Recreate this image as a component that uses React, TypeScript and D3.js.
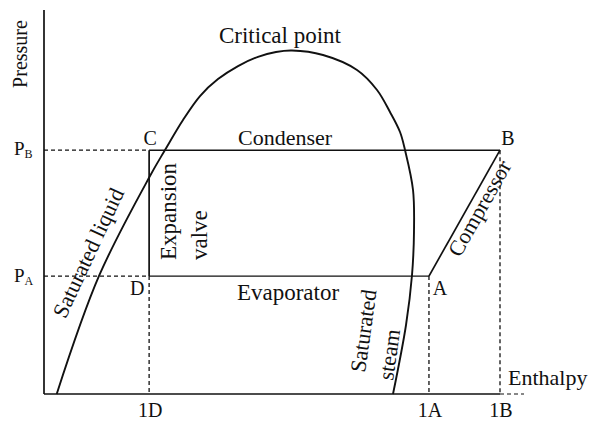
import React from "react";
import * as d3 from "d3";

// Saturation dome (enthalpy, pressure) in arbitrary units
const domeH = [2.65, 11.46, 22.08, 25.21, 28.96, 32.5, 36.25, 40.42, 44.58, 48.33, 51.67, 58.13, 65.21, 69.38, 72.08, 74.17, 75.21, 76.88, 77.08, 76.67, 75.42, 72.71];
const domeP = [0, 30.73, 56.77, 63.54, 71.35, 77.6, 82.0, 85.4, 87.8, 89.06, 89.45, 88.28, 84.38, 79.17, 73.44, 68.23, 63.54, 53.13, 42.19, 30.99, 17.97, 0];

// Cycle state points
const cycleLabels = ["A", "B", "C", "D"];
const cycleH = [80.2, 95, 21.9, 21.9];
const cycleP = [30.7, 63.5, 63.5, 30.7];

// Axis ticks
const pressureTickLabels = ["A", "B"]; // subscripts of P
const pressureTickValues = [30.7, 63.5];
const enthalpyTickLabels = ["1D", "1A", "1B"];
const enthalpyTickValues = [21.9, 80.2, 95];

const W = 590;
const H = 426;
const FONT = "'Liberation Serif', 'Times New Roman', serif";

export default function App() {
  const x = d3.scaleLinear().domain([0, 100]).range([44, 524]);
  const y = d3.scaleLinear().domain([0, 100]).range([394, 10]);

  const pt = (l: string) => {
    const i = cycleLabels.indexOf(l);
    return { x: x(cycleH[i]), y: y(cycleP[i]) };
  };
  const A = pt("A"), B = pt("B"), C = pt("C"), D = pt("D");
  const x0 = x(0), y0 = y(0);

  const domePts = domeH.map((h, i) => [x(h), y(domeP[i])] as [number, number]);
  const dome = d3.line().curve(d3.curveCatmullRom.alpha(0.5))(domePts) || "";

  const dash = "4,3";
  const stroke = "#111";

  const tickX = (lbl: string) => x(enthalpyTickValues[enthalpyTickLabels.indexOf(lbl)]);
  const tickY = (lbl: string) => y(pressureTickValues[pressureTickLabels.indexOf(lbl)]);

  return (
    <svg width={W} height={H} style={{ position: "absolute", left: 0, top: 0, background: "#fff" }} fontFamily={FONT} fill="#111">
      {/* axes */}
      <line x1={x0} y1={y(100)} x2={x0} y2={y0} stroke={stroke} strokeWidth={1.7} />
      <line x1={x0} y1={y0} x2={tickX("1B")} y2={y0} stroke={stroke} strokeWidth={1.5} />
      <line x1={tickX("1B")} y1={y0} x2={x(100)} y2={y0} stroke={stroke} strokeWidth={1.2} strokeDasharray={dash} />

      {/* dashed guides */}
      <line x1={x0} y1={tickY("B")} x2={C.x} y2={C.y} stroke={stroke} strokeWidth={1.3} strokeDasharray={dash} />
      <line x1={x0} y1={tickY("A")} x2={D.x} y2={D.y} stroke={stroke} strokeWidth={1.3} strokeDasharray={dash} />
      <line x1={D.x} y1={D.y} x2={tickX("1D")} y2={y0} stroke={stroke} strokeWidth={1.3} strokeDasharray={dash} />
      <line x1={A.x} y1={A.y} x2={tickX("1A")} y2={y0} stroke={stroke} strokeWidth={1.3} strokeDasharray={dash} />
      <line x1={B.x} y1={B.y} x2={tickX("1B")} y2={y0} stroke={stroke} strokeWidth={1.3} strokeDasharray={dash} />

      {/* cycle */}
      <line x1={C.x} y1={C.y} x2={B.x} y2={B.y} stroke={stroke} strokeWidth={1.5} />
      <line x1={C.x} y1={C.y} x2={D.x} y2={D.y} stroke={stroke} strokeWidth={1.7} />
      <line x1={D.x} y1={D.y} x2={A.x} y2={A.y} stroke={stroke} strokeWidth={1.4} />
      <line x1={A.x} y1={A.y} x2={B.x} y2={B.y} stroke={stroke} strokeWidth={1.7} />

      {/* dome */}
      <path d={dome} fill="none" stroke={stroke} strokeWidth={1.9} />

      {/* axis titles */}
      <text transform={`translate(27,54) rotate(-90)`} textAnchor="middle" fontSize={20}>Pressure</text>
      <text x={508} y={385} fontSize={22}>Enthalpy</text>

      {/* pressure tick labels */}
      {pressureTickLabels.map((l) => (
        <text key={l} x={14} y={tickY(l) + (l === "B" ? 5 : 6)} fontSize={19}>
          P<tspan fontSize={12} dy={3}>{l}</tspan>
        </text>
      ))}

      {/* enthalpy tick labels */}
      {enthalpyTickLabels.map((l) => (
        <text key={l} x={tickX(l) + 1} y={417} textAnchor="middle" fontSize={20}>{l}</text>
      ))}

      {/* state labels */}
      <text x={C.x + 1} y={C.y - 5} textAnchor="middle" fontSize={20}>C</text>
      <text x={B.x + 8} y={B.y - 5} textAnchor="middle" fontSize={20}>B</text>
      <text x={D.x - 12} y={D.y + 19} textAnchor="middle" fontSize={20}>D</text>
      <text x={A.x + 11} y={A.y + 19} textAnchor="middle" fontSize={20}>A</text>

      {/* process labels */}
      <text x={280} y={43} textAnchor="middle" fontSize={23}>Critical point</text>
      <text x={285} y={C.y - 5} textAnchor="middle" fontSize={22}>Condenser</text>
      <text x={288} y={D.y + 24} textAnchor="middle" fontSize={23}>Evaporator</text>
      <text transform={`translate(176,260) rotate(-90)`} fontSize={23}>Expansion</text>
      <text transform={`translate(207,260) rotate(-90)`} fontSize={23}>valve</text>
      <text transform={`translate(95,256) rotate(-65)`} textAnchor="middle" fontSize={22}>Saturated liquid</text>
      <text transform={`translate(486,212) rotate(-60.6)`} textAnchor="middle" fontSize={22}>Compressor</text>
      <text transform={`translate(365,373) rotate(-82)`} fontSize={22}>Saturated</text>
      <text transform={`translate(393,381) rotate(-82)`} fontSize={22}>steam</text>
    </svg>
  );
}
